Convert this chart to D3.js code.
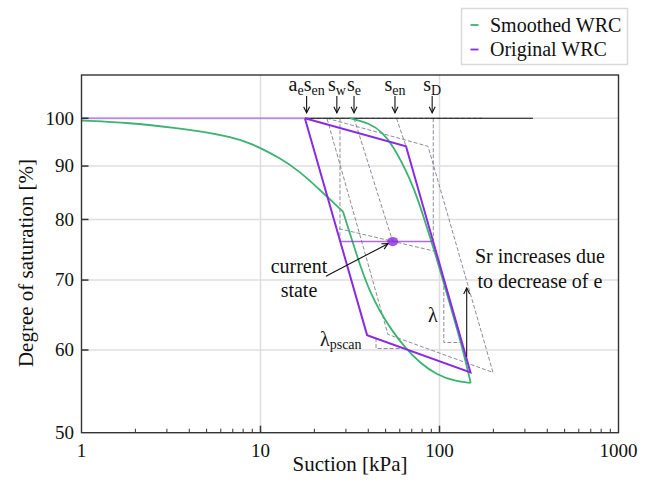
<!DOCTYPE html>
<html>
<head>
<meta charset="utf-8">
<script src="https://cdn.jsdelivr.net/npm/d3@7"></script>
<style>
  html, body { margin: 0; padding: 0; background: #fff; }
  svg { display: block; font-family: "Liberation Serif", "Times New Roman", serif; }
</style>
</head>
<body>
<svg id="chart" width="649" height="484"></svg>
<script>
// ---------------- data ----------------
const xTickValues = [1, 10, 100, 1000];
const xMinorTicks = [2, 3, 4, 5, 6, 7, 8, 9, 20, 30, 40, 50, 60, 70, 80, 90, 200, 300, 400, 500, 600, 700, 800, 900];
const yTickValues = [50, 60, 70, 80, 90, 100];

// Original WRC: main wetting / drying loop, [suction kPa, Sr %]
const originalLoop = [[17.7, 100], [65.0, 94.0], [149, 57.1], [39.4, 62.0], [17.7, 100]];
const originalSaturated = [[1, 100], [17.7, 100]];

// current state on its scanning line
const currentLine = [[27.8, 76.2], [92.3, 76.2]];
const currentState = [54.8, 76.2];

// Smoothed WRC
const smoothWetUpper = [[1, 99.5], [1.87, 99.0], [3.33, 97.9], [4.59, 97.2], [6.33, 96.2], [8.19, 95.1],
  [9.94, 93.7], [12.85, 91.6], [16.6, 88.9], [20.96, 85.7], [24.5, 83.6], [28.9, 81.4]];
const smoothWetLower = [[28.9, 81.4], [32.4, 76.5], [36.4, 71.9], [40.9, 68.2], [46.5, 65.3], [54.3, 62.6],
  [64.2, 60.3], [77.8, 58.3], [96.8, 56.8], [122.1, 56.0], [149.4, 55.8]];
const smoothDry = [[31.6, 100], [40.9, 98.9], [48.3, 96.9], [55.0, 94.0], [61.7, 90.7], [68.4, 87.4],
  [75.9, 83.6], [84.1, 79.1], [94.4, 74.3], [104.6, 70.0], [119.0, 64.8], [135.3, 60.0], [149.4, 55.8]];

// reference lines
const saturatedLine = [[17.7, 100], [333, 100]];
const dashedSaturated = [[17.7, 100], [173, 100]];
const shiftedLoop = [[23.5, 100], [86.3, 94.0], [199, 57.1], [51.5, 62.1], [23.5, 100]];
const dashedGuides = [
  [[27.8, 100], [27.8, 76.2]],                  // s_w
  [[92.3, 100], [92.3, 76.2]],                  // s_D
  [[33.3, 100], [54.8, 76.2]],                  // s_e
  [[57.5, 100], [65.0, 94.0]],                  // s_en
  [[27.45, 78.4], [96.8, 74.5]],                // scanning line through the current state
  [[105.7, 70.0], [105.7, 61.0], [133.1, 61.0]],// slope λ
  [[44.2, 61.6], [44.2, 60.2], [64.2, 60.2]]    // slope λ_pscan
];

// suction markers along the top
const markerSuction = [18.1, 26.7, 33.3, 56.4, 91.0];
const markerLabels = [[["a", "e"], ["s", "en"]], [["s", "w"]], [["s", "e"]], [["s", "en"]], [["s", "D"]]];

// Sr increase arrow
const srArrow = [[141.9, 59.1], [141.9, 68.8]];
// current-state annotation arrow
const stateArrow = [[23.2, 70.6], [51.6, 75.85]];

const legendItems = [
  { label: "Smoothed WRC", color: "#3cb371" },
  { label: "Original WRC", color: "#8a2be2" }
];

// ---------------- drawing ----------------
const PURPLE = "#8a2be2", GREEN = "#3cb371", DASH = "#8c8c99";
const svg = d3.select("#chart");
const plot = { left: 81.5, right: 618.5, top: 75, bottom: 432.7 };

const x = d3.scaleLog().domain([1, 1000]).range([plot.left, plot.right]);
const y = d3.scaleLog().domain([50, 110]).range([plot.bottom, plot.top]);
const line = d3.line().x(d => x(d[0])).y(d => y(d[1]));
const smooth = d3.line().x(d => x(d[0])).y(d => y(d[1])).curve(d3.curveBasis);

const defs = svg.append("defs");
defs.append("clipPath").attr("id", "clip").append("rect")
  .attr("x", plot.left).attr("y", plot.top)
  .attr("width", plot.right - plot.left).attr("height", plot.bottom - plot.top);
defs.append("marker").attr("id", "head")
  .attr("viewBox", "-7 -4 8 8").attr("refX", 0).attr("refY", 0)
  .attr("markerUnits", "userSpaceOnUse").attr("markerWidth", 8).attr("markerHeight", 8)
  .attr("orient", "auto")
  .append("path").attr("d", "M-6,-3L0,0L-6,3").attr("fill", "none")
  .attr("stroke", "#111").attr("stroke-width", 1.1);

// grid
const grid = svg.append("g").attr("stroke", "#dedede").attr("stroke-width", 1.5);
grid.selectAll("line.gx").data(xTickValues.slice(1, -1)).join("line")
  .attr("x1", d => x(d)).attr("x2", d => x(d)).attr("y1", plot.top).attr("y2", plot.bottom);
grid.selectAll("line.gy").data(yTickValues.slice(1)).join("line")
  .attr("y1", d => y(d)).attr("y2", d => y(d)).attr("x1", plot.left).attr("x2", plot.right);

const g = svg.append("g").attr("clip-path", "url(#clip)");

// dashed reference geometry
g.append("path").attr("d", line(dashedSaturated)).attr("fill", "none")
  .attr("stroke", DASH).attr("stroke-width", 1).attr("stroke-dasharray", "4,2");
g.append("path").attr("d", line(shiftedLoop)).attr("fill", "none")
  .attr("stroke", DASH).attr("stroke-width", 1).attr("stroke-dasharray", "4,2");
g.selectAll("path.guide").data(dashedGuides).join("path")
  .attr("d", d => line(d)).attr("fill", "none")
  .attr("stroke", DASH).attr("stroke-width", 1).attr("stroke-dasharray", "4,2");

// saturated line
g.append("path").attr("d", line(saturatedLine)).attr("stroke", "#111").attr("stroke-width", 1.2);

// smoothed WRC
[smoothWetUpper, smoothWetLower, smoothDry].forEach(pts => {
  g.append("path").attr("d", smooth(pts)).attr("fill", "none")
    .attr("stroke", GREEN).attr("stroke-width", 1.8);
});

// original WRC
g.append("path").attr("d", line(originalSaturated)).attr("fill", "none")
  .attr("stroke", PURPLE).attr("stroke-opacity", 0.45).attr("stroke-width", 2.2);
g.append("path").attr("d", line(originalLoop)).attr("fill", "none")
  .attr("stroke", PURPLE).attr("stroke-width", 2).attr("stroke-linejoin", "miter");
g.append("path").attr("d", line(currentLine)).attr("fill", "none")
  .attr("stroke", PURPLE).attr("stroke-opacity", 0.7).attr("stroke-width", 1.5);
g.append("ellipse").attr("cx", x(currentState[0])).attr("cy", y(currentState[1]))
  .attr("rx", 5.5).attr("ry", 4.6).attr("fill", PURPLE).attr("fill-opacity", 0.8);

// suction markers
const mk = svg.append("g");
markerSuction.forEach((s, i) => {
  mk.append("path").attr("d", line([[s, 105.0], [s, 101.2]]))
    .attr("stroke", "#111").attr("stroke-width", 1.1).attr("marker-end", "url(#head)");
  const t = mk.append("text").attr("x", x(s)).attr("y", y(106.1))
    .attr("text-anchor", "middle").attr("font-size", 20).attr("fill", "#111");
  markerLabels[i].forEach(([main, sub], j) => {
    t.append("tspan").attr("dy", j > 0 ? -4 : 0).text(main);
    t.append("tspan").attr("font-size", 14).attr("dy", 4).text(sub);
  });
});

// annotations
svg.append("path").attr("d", line(srArrow)).attr("stroke", "#111").attr("stroke-width", 1.1)
  .attr("marker-end", "url(#head)");
svg.append("path").attr("d", line(stateArrow)).attr("stroke", "#111").attr("stroke-width", 1.1)
  .attr("marker-end", "url(#head)");

const ann = svg.append("g").attr("font-size", 20).attr("fill", "#111");
ann.append("text").attr("x", x(16.4)).attr("y", y(71.1)).attr("text-anchor", "middle").text("current");
ann.append("text").attr("x", x(16.4)).attr("y", y(67.4)).attr("text-anchor", "middle").text("state");
ann.append("text").attr("x", x(364)).attr("y", y(72.7)).attr("text-anchor", "middle").text("Sr increases due");
ann.append("text").attr("x", x(364)).attr("y", y(68.8)).attr("text-anchor", "middle").text("to decrease of e");
ann.append("text").attr("x", x(91.8)).attr("y", y(63.8)).attr("text-anchor", "middle").text("λ");
const lp = ann.append("text").attr("x", x(21.5)).attr("y", y(60.5));
lp.append("tspan").text("λ");
lp.append("tspan").attr("font-size", 14).attr("dy", 3).text("pscan");

// axes frame, ticks
const axisColor = "#333";
const ticks = svg.append("g").attr("stroke", axisColor);
ticks.selectAll("line.ty").data(yTickValues.slice(1)).join("line")
  .attr("x1", plot.left).attr("x2", plot.left + 7).attr("y1", d => y(d)).attr("y2", d => y(d))
  .attr("stroke-width", 1.5);
ticks.selectAll("line.tx").data(xTickValues.slice(1, -1)).join("line")
  .attr("x1", d => x(d)).attr("x2", d => x(d)).attr("y1", plot.bottom).attr("y2", plot.bottom - 7)
  .attr("stroke-width", 1.5);
ticks.selectAll("line.tm").data(xMinorTicks).join("line")
  .attr("x1", d => x(d)).attr("x2", d => x(d)).attr("y1", plot.bottom).attr("y2", plot.bottom - 4)
  .attr("stroke-width", 1);

svg.append("rect").attr("x", plot.left).attr("y", plot.top)
  .attr("width", plot.right - plot.left).attr("height", plot.bottom - plot.top)
  .attr("fill", "none").attr("stroke", axisColor).attr("stroke-width", 1.4);

// tick labels
const tl = svg.append("g").attr("font-size", 19).attr("fill", "#111");
tl.selectAll("text.xl").data(xTickValues).join("text")
  .attr("x", d => x(d)).attr("y", 457).attr("text-anchor", "middle").text(d => d);
tl.selectAll("text.yl").data(yTickValues).join("text")
  .attr("x", plot.left - 7.5).attr("y", d => y(d)).attr("dy", "0.33em")
  .attr("text-anchor", "end").text(d => d);

// axis titles
svg.append("text").attr("x", (plot.left + plot.right) / 2).attr("y", 471)
  .attr("text-anchor", "middle").attr("font-size", 21).attr("fill", "#111").text("Suction [kPa]");
svg.append("text").attr("transform", "translate(26,263) rotate(-90)").attr("dy", "0.33em")
  .attr("text-anchor", "middle").attr("font-size", 21).attr("fill", "#111").text("Degree of saturation [%]");

// legend
const lg = svg.append("g");
lg.append("rect").attr("x", 461.5).attr("y", 8.5).attr("width", 166).attr("height", 56)
  .attr("fill", "#fff").attr("stroke", "#d9d9d9").attr("stroke-width", 1.5);
legendItems.forEach((d, i) => {
  const cy = 25 + i * 24.5;
  lg.append("line").attr("x1", 470.5).attr("x2", 478.5).attr("y1", cy).attr("y2", cy)
    .attr("stroke", d.color).attr("stroke-width", 1.8);
  lg.append("text").attr("x", 490).attr("y", cy + 6.8).attr("font-size", 20).attr("fill", "#111").text(d.label);
});
</script>
</body>
</html>
